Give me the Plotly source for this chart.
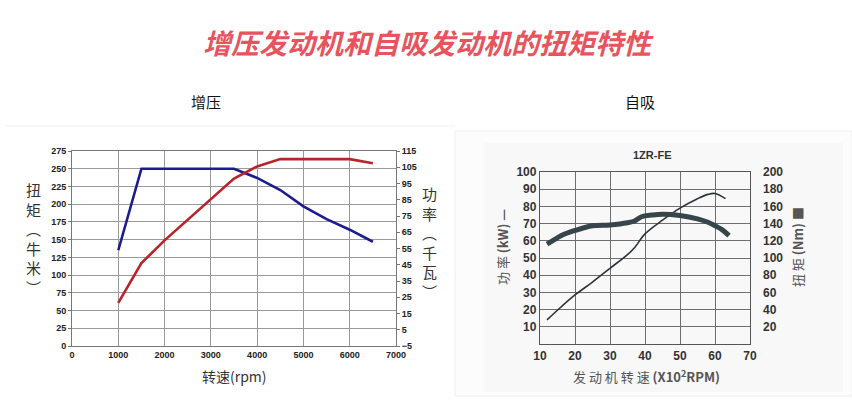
import plotly.graph_objects as go

W, H = 852, 416

# ---- Data: turbo engine (left) ----
turbo_rpm_torque = [1000, 1500, 3500, 4000, 4500, 5000, 5500, 6000, 6500]
turbo_torque = [135, 250, 250, 237, 220, 197, 179, 164, 147]
turbo_rpm_power = [1000, 1500, 2000, 2500, 3000, 3500, 4000, 4500, 5000, 5500, 6000, 6500]
turbo_power = [21.5, 46, 60, 72.5, 85, 98, 105.5, 110, 110, 110, 110, 107.5]

# ---- Data: naturally aspirated 1ZR-FE (right) ----
na_rpm_power = [12, 16, 20, 25, 30, 35, 37, 40, 45, 50, 55, 58, 60, 63]
na_power = [14, 21.5, 28.5, 36, 44, 52, 56, 64, 72, 79, 84.5, 87, 87.5, 84.5]
na_rpm_torque = [12, 14, 16, 20, 25, 30, 35, 37, 39, 42, 45, 50, 55, 58, 60, 62, 64]
na_torque = [116, 121, 126, 132, 137.5, 138.5, 141, 143, 148, 150, 151, 149.5, 145.5, 141.5, 137.5, 133, 126]

left_x_ticks = [0, 1000, 2000, 3000, 4000, 5000, 6000, 7000]
left_y_ticks = list(range(0, 276, 25))
left_y2_ticks = list(range(-5, 116, 10))
right_x_ticks = [10, 20, 30, 40, 50, 60, 70]
right_y_ticks = list(range(10, 101, 10))
right_y2_ticks = list(range(20, 201, 20))


def px_x(p):
    return p / W


def px_y(p):
    return 1 - p / H


fig = go.Figure()

# Left chart traces
fig.add_trace(go.Scatter(x=turbo_rpm_torque, y=turbo_torque, mode="lines",
                         line=dict(color="#1c1c90", width=2.6), xaxis="x", yaxis="y",
                         showlegend=False, hoverinfo="skip"))
fig.add_trace(go.Scatter(x=turbo_rpm_power, y=turbo_power, mode="lines",
                         line=dict(color="#b8242a", width=2.6), xaxis="x", yaxis="y2",
                         showlegend=False, hoverinfo="skip"))
# Right chart traces
fig.add_trace(go.Scatter(x=na_rpm_power, y=na_power, mode="lines",
                         line=dict(color="#2b3538", width=1.6, shape="spline"), xaxis="x2", yaxis="y3",
                         showlegend=False, hoverinfo="skip"))
fig.add_trace(go.Scatter(x=na_rpm_torque, y=na_torque, mode="lines",
                         line=dict(color="#36454a", width=5, shape="spline"), xaxis="x2", yaxis="y4",
                         showlegend=False, hoverinfo="skip"))

tick_font_l = dict(family="Liberation Sans, Arial", size=9, color="#222", weight="bold")
tick_font_r = dict(family="Liberation Sans, Arial", size=12, color="#333", weight="bold")

fig.update_layout(
    template="none",
    width=W, height=H, margin=dict(l=0, r=0, t=0, b=0, autoexpand=False),
    paper_bgcolor="white", plot_bgcolor="rgba(0,0,0,0)",
    xaxis=dict(domain=[px_x(72), px_x(396)], range=[0, 7000], tickvals=left_x_ticks,
               showgrid=True, gridcolor="#9a9a9a", gridwidth=1, zeroline=False,
               showline=True, linecolor="#777", mirror=True, ticks="", tickfont=tick_font_l,
               anchor="y", automargin=False),
    yaxis=dict(domain=[px_y(346), px_y(151)], range=[0, 275], tickvals=left_y_ticks,
               showgrid=True, gridcolor="#9a9a9a", gridwidth=1, zeroline=False,
               showline=True, linecolor="#777", ticks="outside", ticklen=3, tickcolor="#777",
               tickfont=tick_font_l, anchor="x", automargin=False),
    yaxis2=dict(overlaying="y", side="right", range=[-5, 115], tickvals=left_y2_ticks,
                showgrid=False, zeroline=False, showline=True, linecolor="#777",
                ticks="outside", ticklen=3, tickcolor="#777", tickfont=tick_font_l, anchor="x",
                automargin=False),
    xaxis2=dict(domain=[px_x(540), px_x(750)], range=[10, 70], tickvals=right_x_ticks,
                showgrid=True, gridcolor="#6e6e6e", gridwidth=1.3, zeroline=False,
                showline=True, linecolor="#555", linewidth=1.3, mirror=True, ticks="",
                tickfont=tick_font_r, anchor="y3", automargin=False),
    yaxis3=dict(domain=[px_y(344), px_y(172)], range=[0, 100], tickvals=right_y_ticks,
                showgrid=True, gridcolor="#6e6e6e", gridwidth=1.3, zeroline=False,
                showline=True, linecolor="#555", linewidth=1.3, mirror=True, ticks="",
                tickfont=tick_font_r, anchor="x2", automargin=False),
    yaxis4=dict(overlaying="y3", side="right", range=[0, 200], tickvals=right_y2_ticks,
                showgrid=False, zeroline=False, showline=False, ticks="",
                tickfont=tick_font_r, anchor="x2", ticklabelstandoff=12, automargin=False),
)

# background panels
fig.add_shape(type="line", xref="paper", yref="paper", x0=px_x(5), x1=px_x(455),
              y0=px_y(126), y1=px_y(126), line=dict(color="#f0f0f0", width=1), layer="below")
fig.add_shape(type="rect", xref="paper", yref="paper", x0=px_x(455), x1=px_x(852),
              y0=px_y(396), y1=px_y(131), fillcolor="#fcfcfc",
              line=dict(color="#eeeeee", width=1), layer="below")
fig.add_shape(type="rect", xref="paper", yref="paper", x0=px_x(484), x1=px_x(843),
              y0=px_y(392), y1=px_y(143), fillcolor="#f8f8f8",
              line=dict(width=0), layer="below")

cjk = "Noto Sans CJK SC"


def ann(text, x, y, size, color="#222", angle=0, family=cjk, weight="normal", style="normal"):
    fig.add_annotation(text=text, x=px_x(x), y=px_y(y), xref="paper", yref="paper",
                       showarrow=False, textangle=angle, xanchor="center", yanchor="middle",
                       font=dict(family=family, size=size, color=color, weight=weight, style=style))


ann("增压发动机和自吸发动机的扭矩特性", 428, 42, 28, color="#e8545e", weight="bold", style="italic")
ann("增压", 206, 101, 15, color="#111")
ann("自吸", 640, 101, 15, color="#111")

# left chart axis titles (stacked characters)
ann("扭<br>矩<br>︵<br>牛<br>米<br>︶", 33, 239, 15, color="#333")
ann("功<br>率<br>︵<br>千<br>瓦<br>︶", 430, 242, 15, color="#333")
ann("转速(rpm)", 234, 376, 14, color="#333")

# right chart titles
ann("1ZR-FE", 652, 155, 11, color="#333", family="Liberation Sans, Arial", weight="bold")
ann("功 率 <b>(kW) —</b>", 502, 247, 13, color="#555", angle=-90)
ann("扭 矩 <b>(Nm) ■</b>", 797, 247, 13, color="#555", angle=-90)
ann("发 动 机 转 速 <b>(X10<sup>2</sup>RPM)</b>", 646, 376, 13, color="#555")

fig.write_html("out.html")
